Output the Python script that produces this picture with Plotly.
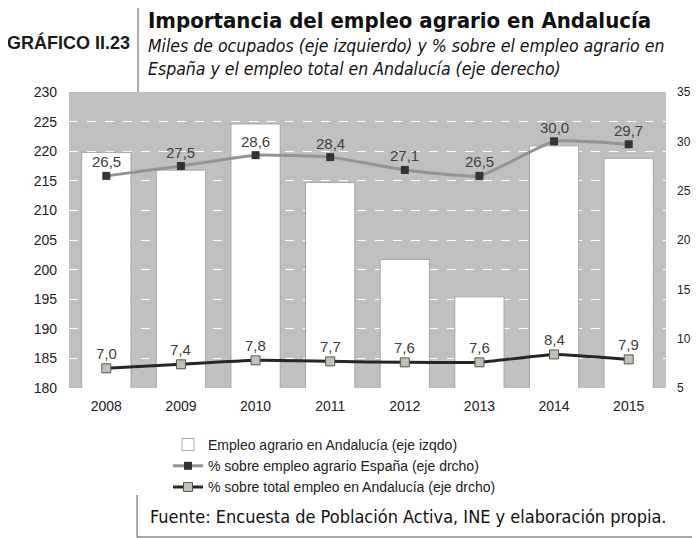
import plotly.graph_objects as go

years = ["2008", "2009", "2010", "2011", "2012", "2013", "2014", "2015"]
empleo_andalucia = [219.8, 216.8, 224.6, 214.7, 201.7, 195.4, 220.9, 218.8]
pct_espana = [26.5, 27.5, 28.6, 28.4, 27.1, 26.5, 30.0, 29.7]
pct_total_and = [7.0, 7.4, 7.8, 7.7, 7.6, 7.6, 8.4, 7.9]
pct_espana_lbl = ["26,5", "27,5", "28,6", "28,4", "27,1", "26,5", "30,0", "29,7"]
pct_total_lbl = ["7,0", "7,4", "7,8", "7,7", "7,6", "7,6", "8,4", "7,9"]

# page body has an 8px default margin: build the figure 8px smaller and shifted
OFF = 8
W, H = 700 - OFF, 538 - OFF
PL, PR, PT, PB = 69, 666, 92, 388          # plot area in screen pixels
L, R, T, B = PL - OFF, W - (PR - OFF), PT - OFF, H - (PB - OFF)
PW, PH = W - L - R, H - T - B


def px(x):
    return (x - OFF - L) / PW


def py(y):
    return (H - B - (y - OFF)) / PH


NARROW = "Liberation Sans Narrow, DejaVu Sans Condensed, Arial Narrow, sans-serif"
SANS = "Liberation Sans, Arial, sans-serif"

fig = go.Figure()
fig.add_trace(go.Bar(
    x=years, y=empleo_andalucia, name="Empleo agrario en Andalucía (eje izqdo)",
    marker=dict(color="white", line=dict(color="#a6a6a6", width=1)),
))
fig.add_trace(go.Scatter(
    x=years, y=pct_espana, yaxis="y2", mode="lines+markers",
    name="% sobre empleo agrario España (eje drcho)",
    line=dict(color="#949494", width=3, shape="spline", smoothing=0.4),
    marker=dict(symbol="square", size=8, color="#333333"),
))
fig.add_trace(go.Scatter(
    x=years, y=pct_total_and, yaxis="y2", mode="lines+markers",
    name="% sobre total empleo en Andalucía (eje drcho)",
    line=dict(color="#262626", width=3, shape="spline", smoothing=0.4),
    marker=dict(symbol="square", size=9, color="#c0c0c0",
                line=dict(color="#5a5a3c", width=1)),
))

annotations = []
for i, (v, t) in enumerate(zip(pct_espana, pct_espana_lbl)):
    annotations.append(dict(x=i, y=v, xref="x", yref="y2", text=t, showarrow=False,
                            yshift=14, font=dict(family=SANS, size=15, color="#404040")))
for i, (v, t) in enumerate(zip(pct_total_and, pct_total_lbl)):
    annotations.append(dict(x=i, y=v, xref="x", yref="y2", text=t, showarrow=False,
                            yshift=15, font=dict(family=SANS, size=15, color="#404040")))

annotations += [
    dict(xref="paper", yref="paper", x=px(5), y=py(43), xanchor="left", yanchor="middle",
         text="<b>GRÁFICO II.23</b>", showarrow=False,
         font=dict(family=SANS, size=18, color="#1a1a1a")),
    dict(xref="paper", yref="paper", x=px(146), y=py(20), xanchor="left", yanchor="middle",
         text="<b>Importancia del empleo agrario en Andalucía</b>", showarrow=False,
         font=dict(family=NARROW, size=22, color="#111111")),
    dict(xref="paper", yref="paper", x=px(146), y=py(57), xanchor="left", yanchor="middle",
         text="<i>Miles de ocupados (eje izquierdo) y % sobre el empleo agrario en<br>España y el empleo total en Andalucía (eje derecho)</i>",
         showarrow=False, align="left",
         font=dict(family=NARROW, size=17.5, color="#111111")),
    dict(xref="paper", yref="paper", x=px(148), y=py(516), xanchor="left", yanchor="middle",
         text="Fuente: Encuesta de Población Activa, INE y elaboración propia.", showarrow=False,
         font=dict(family=NARROW, size=18, color="#111111")),
]

shapes = [
    dict(type="line", xref="paper", yref="paper", x0=px(138), x1=px(138), y0=py(OFF), y1=py(92),
         line=dict(color="#555555", width=1)),
    dict(type="line", xref="paper", yref="paper", x0=px(137), x1=px(137), y0=py(495), y1=py(537),
         line=dict(color="#555555", width=1)),
    dict(type="line", xref="paper", yref="paper", x0=px(137), x1=px(700), y0=py(537), y1=py(537),
         line=dict(color="#555555", width=1)),
]

fig.update_layout(
    width=W, height=H, autosize=False,
    margin=dict(l=L, r=R, t=T, b=B, pad=0),
    paper_bgcolor="white", plot_bgcolor="#c0c0c0",
    bargap=0.34,
    showlegend=True,
    legend=dict(x=px(168), y=py(429), xanchor="left", yanchor="top",
                font=dict(family=SANS, size=14, color="#222222"),
                bgcolor="rgba(0,0,0,0)", itemwidth=30, tracegroupgap=0),
    xaxis=dict(type="category", range=[-0.5, 7.5], showgrid=False, zeroline=False,
               showline=False, automargin=False, ticklabelstandoff=8,
               tickfont=dict(family=SANS, size=14, color="#222222"), ticks=""),
    yaxis=dict(range=[180, 230], dtick=5, showgrid=True, gridcolor="white", griddash="dash",
               gridwidth=1, zeroline=False, showline=False, ticks="", ticklabelstandoff=11,
               automargin=False,
               tickfont=dict(family=SANS, size=14, color="#222222")),
    yaxis2=dict(range=[5, 35], dtick=5, overlaying="y", side="right", showgrid=False,
                zeroline=False, showline=False, ticks="", ticklabelstandoff=10,
                automargin=False,
                tickfont=dict(family=SANS, size=12, color="#222222")),
    annotations=annotations,
    shapes=shapes,
)

fig.write_html("out.html")
